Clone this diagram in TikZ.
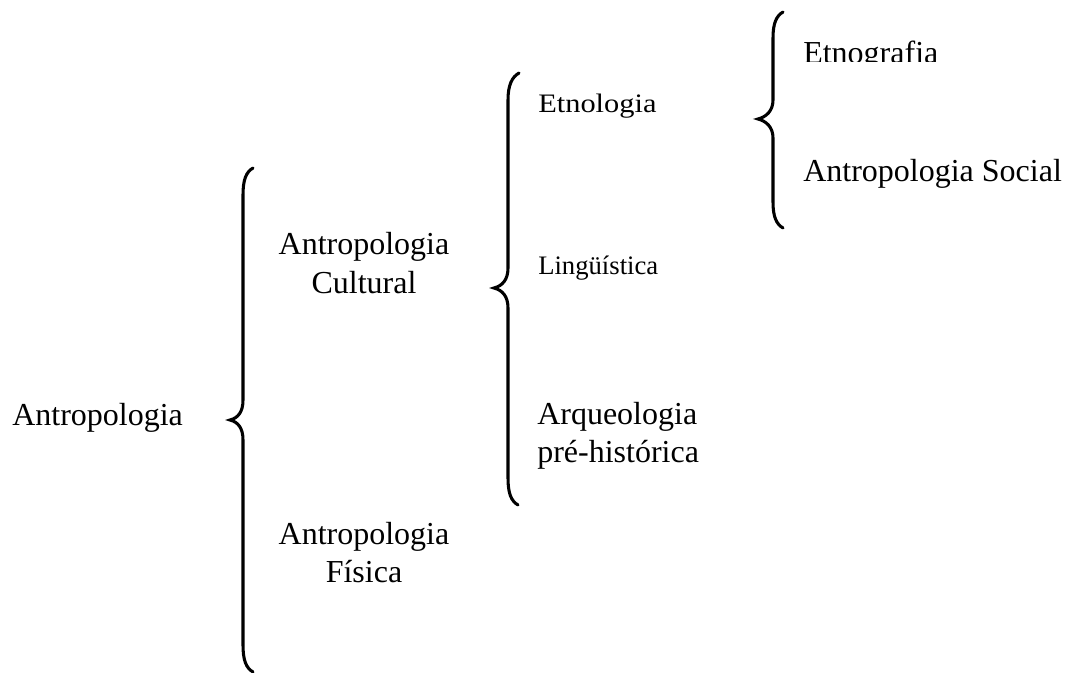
\documentclass[tikz,border=0pt]{standalone}
\usepackage{fontspec}
\setmainfont{Liberation Serif}
\usetikzlibrary{calc}
\tikzset{
  lbl/.style={inner sep=0pt, font={\fontsize{24pt}{28.5pt}\selectfont}},
  small/.style={inner sep=0pt, font={\fontsize{20pt}{24pt}\selectfont}},
  bracepath/.style={line width=2.3pt, line cap=round, black},
}
\begin{document}
\begin{tikzpicture}[x=0.75pt,y=-0.75pt]
\useasboundingbox (0,0) rectangle (1069,673);

% texts
\node[lbl, anchor=base west] (antro) at (12,425) {Antropologia};
\node[lbl, anchor=base, align=center] (cult) at (364,293) {Antropologia\\Cultural};
\node[lbl, anchor=base, align=center] (fis) at (364,582) {Antropologia\\Física};
\node[small, anchor=base west] (etnol) at (538,113) {\scalebox{1.14}[1]{Etnologia}};
\node[small, anchor=base west] (ling) at (538,275) {Lingüística};
\node[lbl, anchor=base west, align=left] (arq) at (537,462) {Arqueologia\\pré-histórica};
\begin{scope}
  \clip (790,0) rectangle (1069,62);
  \node[lbl, anchor=base west] (etnog) at (803,64) {Etnografia};
\end{scope}
\node[lbl, anchor=base west] (soc) at (803,182) {Antropologia Social};

% braces
\draw[bracepath] (253,168) .. controls (246,172) and (243,180) .. (243,195)
  -- (243,400) .. controls (243,412) and (238,418) .. (230,420)
  .. controls (238,422) and (243,428) .. (243,440)
  -- (243,645) .. controls (243,660) and (246,668) .. (253,672);

\draw[bracepath] (519,73) .. controls (512,77) and (508,85) .. (508,100)
  -- (508,268) .. controls (508,280) and (502,286) .. (494,288)
  .. controls (502,290) and (508,296) .. (508,308)
  -- (508,478) .. controls (508,493) and (511,501) .. (518,505);

\draw[bracepath] (783,12) .. controls (776,16) and (773,24) .. (773,38)
  -- (773,100) .. controls (773,111) and (766,117) .. (758,119)
  .. controls (766,121) and (773,127) .. (773,138)
  -- (773,202) .. controls (773,216) and (776,224) .. (783,228);
\end{tikzpicture}
\end{document}
